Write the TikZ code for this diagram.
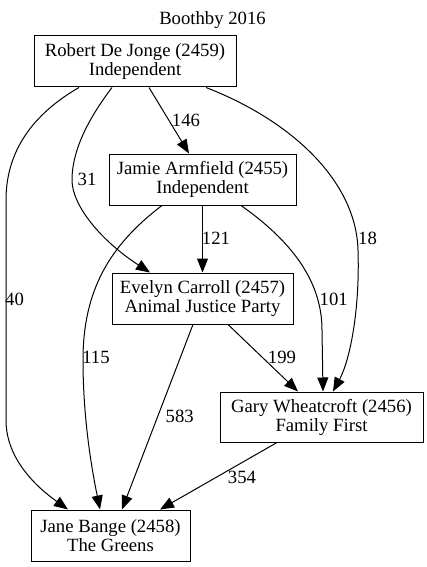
\documentclass[tikz,border=0pt]{standalone}
\usepackage{fontspec}
\setmainfont{Liberation Serif}
\newfontfamily\gvfont{Liberation Serif}
\usetikzlibrary{arrows.meta}
\begin{document}
\begin{tikzpicture}[x=1pt,y=-1pt,
  every node/.style={font=\gvfont\fontsize{18.7}{19}\selectfont},
  box/.style={draw, line width=1pt, inner sep=0pt, align=center, minimum height=51pt},
  lbl/.style={inner sep=0pt},
  conn/.style={line width=1pt, -{Triangle[length=14pt,width=11pt]}}]
\useasboundingbox (0,0) rectangle (427,567);
\fill[white] (0,0) rectangle (427,567);
% title
\node[lbl] (title) at (212.5,20) {Boothby 2016};
% candidates
\node[box, minimum width=202pt] (rob) at (135,61.5) {Robert De Jonge (2459)\\Independent};
\node[box, minimum width=187pt] (jam) at (202.5,179.5) {Jamie Armfield (2455)\\Independent};
\node[box, minimum width=181pt] (eve) at (202.5,298.5) {Evelyn Carroll (2457)\\Animal Justice Party};
\node[box, minimum width=203pt, minimum height=50pt] (gary) at (321.5,417) {Gary Wheatcroft (2456)\\Family First};
\node[box, minimum width=159pt] (jane) at (110.5,535.5) {Jane Bange (2458)\\The Greens};
% connectors
\draw[conn] ([xshift=14pt]rob.south) -- ([xshift=-13.5pt]jam.north);
\draw[conn] ([xshift=-23pt]rob.south) .. controls (95,110) and (72,145) .. (72,180)
   .. controls (72,205) and (100,240) .. ([xshift=-52.5pt]eve.north);
\draw[conn] ([xshift=-56pt]rob.south) .. controls (40,110) and (6,145) .. (6,200)
   -- (6,420) .. controls (6,460) and (38,488) .. ([xshift=-42.5pt]jane.north);
\draw[conn] ([xshift=71pt]rob.south) .. controls (290,120) and (356,180) .. (358,250)
   .. controls (360,310) and (350,360) .. ([xshift=11.5pt]gary.north);
\draw[conn] (jam.south) -- (eve.north);
\draw[conn] ([xshift=38.5pt]jam.south) .. controls (290,240) and (322,280) .. (322,330)
   -- ([xshift=1.5pt]gary.north);
\draw[conn] ([xshift=-40.5pt]jam.south) .. controls (110,245) and (83,290) .. (83,360)
   .. controls (83,420) and (92,470) .. ([xshift=-10.5pt]jane.north);
\draw[conn] ([xshift=25.5pt]eve.south) -- ([xshift=-23.5pt]gary.north);
\draw[conn] ([xshift=-9.5pt]eve.south) -- ([xshift=11.5pt]jane.north);
\draw[conn] ([xshift=-44.5pt]gary.south) -- ([xshift=49.5pt]jane.north);
% labels
\node[lbl] (l146) at (186,120) {146};
\node[lbl] (l31) at (87,179.5) {31};
\node[lbl] (l40) at (14.5,299) {40};
\node[lbl] (l18) at (367.5,238) {18};
\node[lbl] (l121) at (216,238) {121};
\node[lbl] (l101) at (333.7,299) {101};
\node[lbl] (l115) at (96,357) {115};
\node[lbl] (l199) at (282,357) {199};
\node[lbl] (l583) at (179.7,416) {583};
\node[lbl] (l354) at (242,477) {354};
\end{tikzpicture}
\end{document}
